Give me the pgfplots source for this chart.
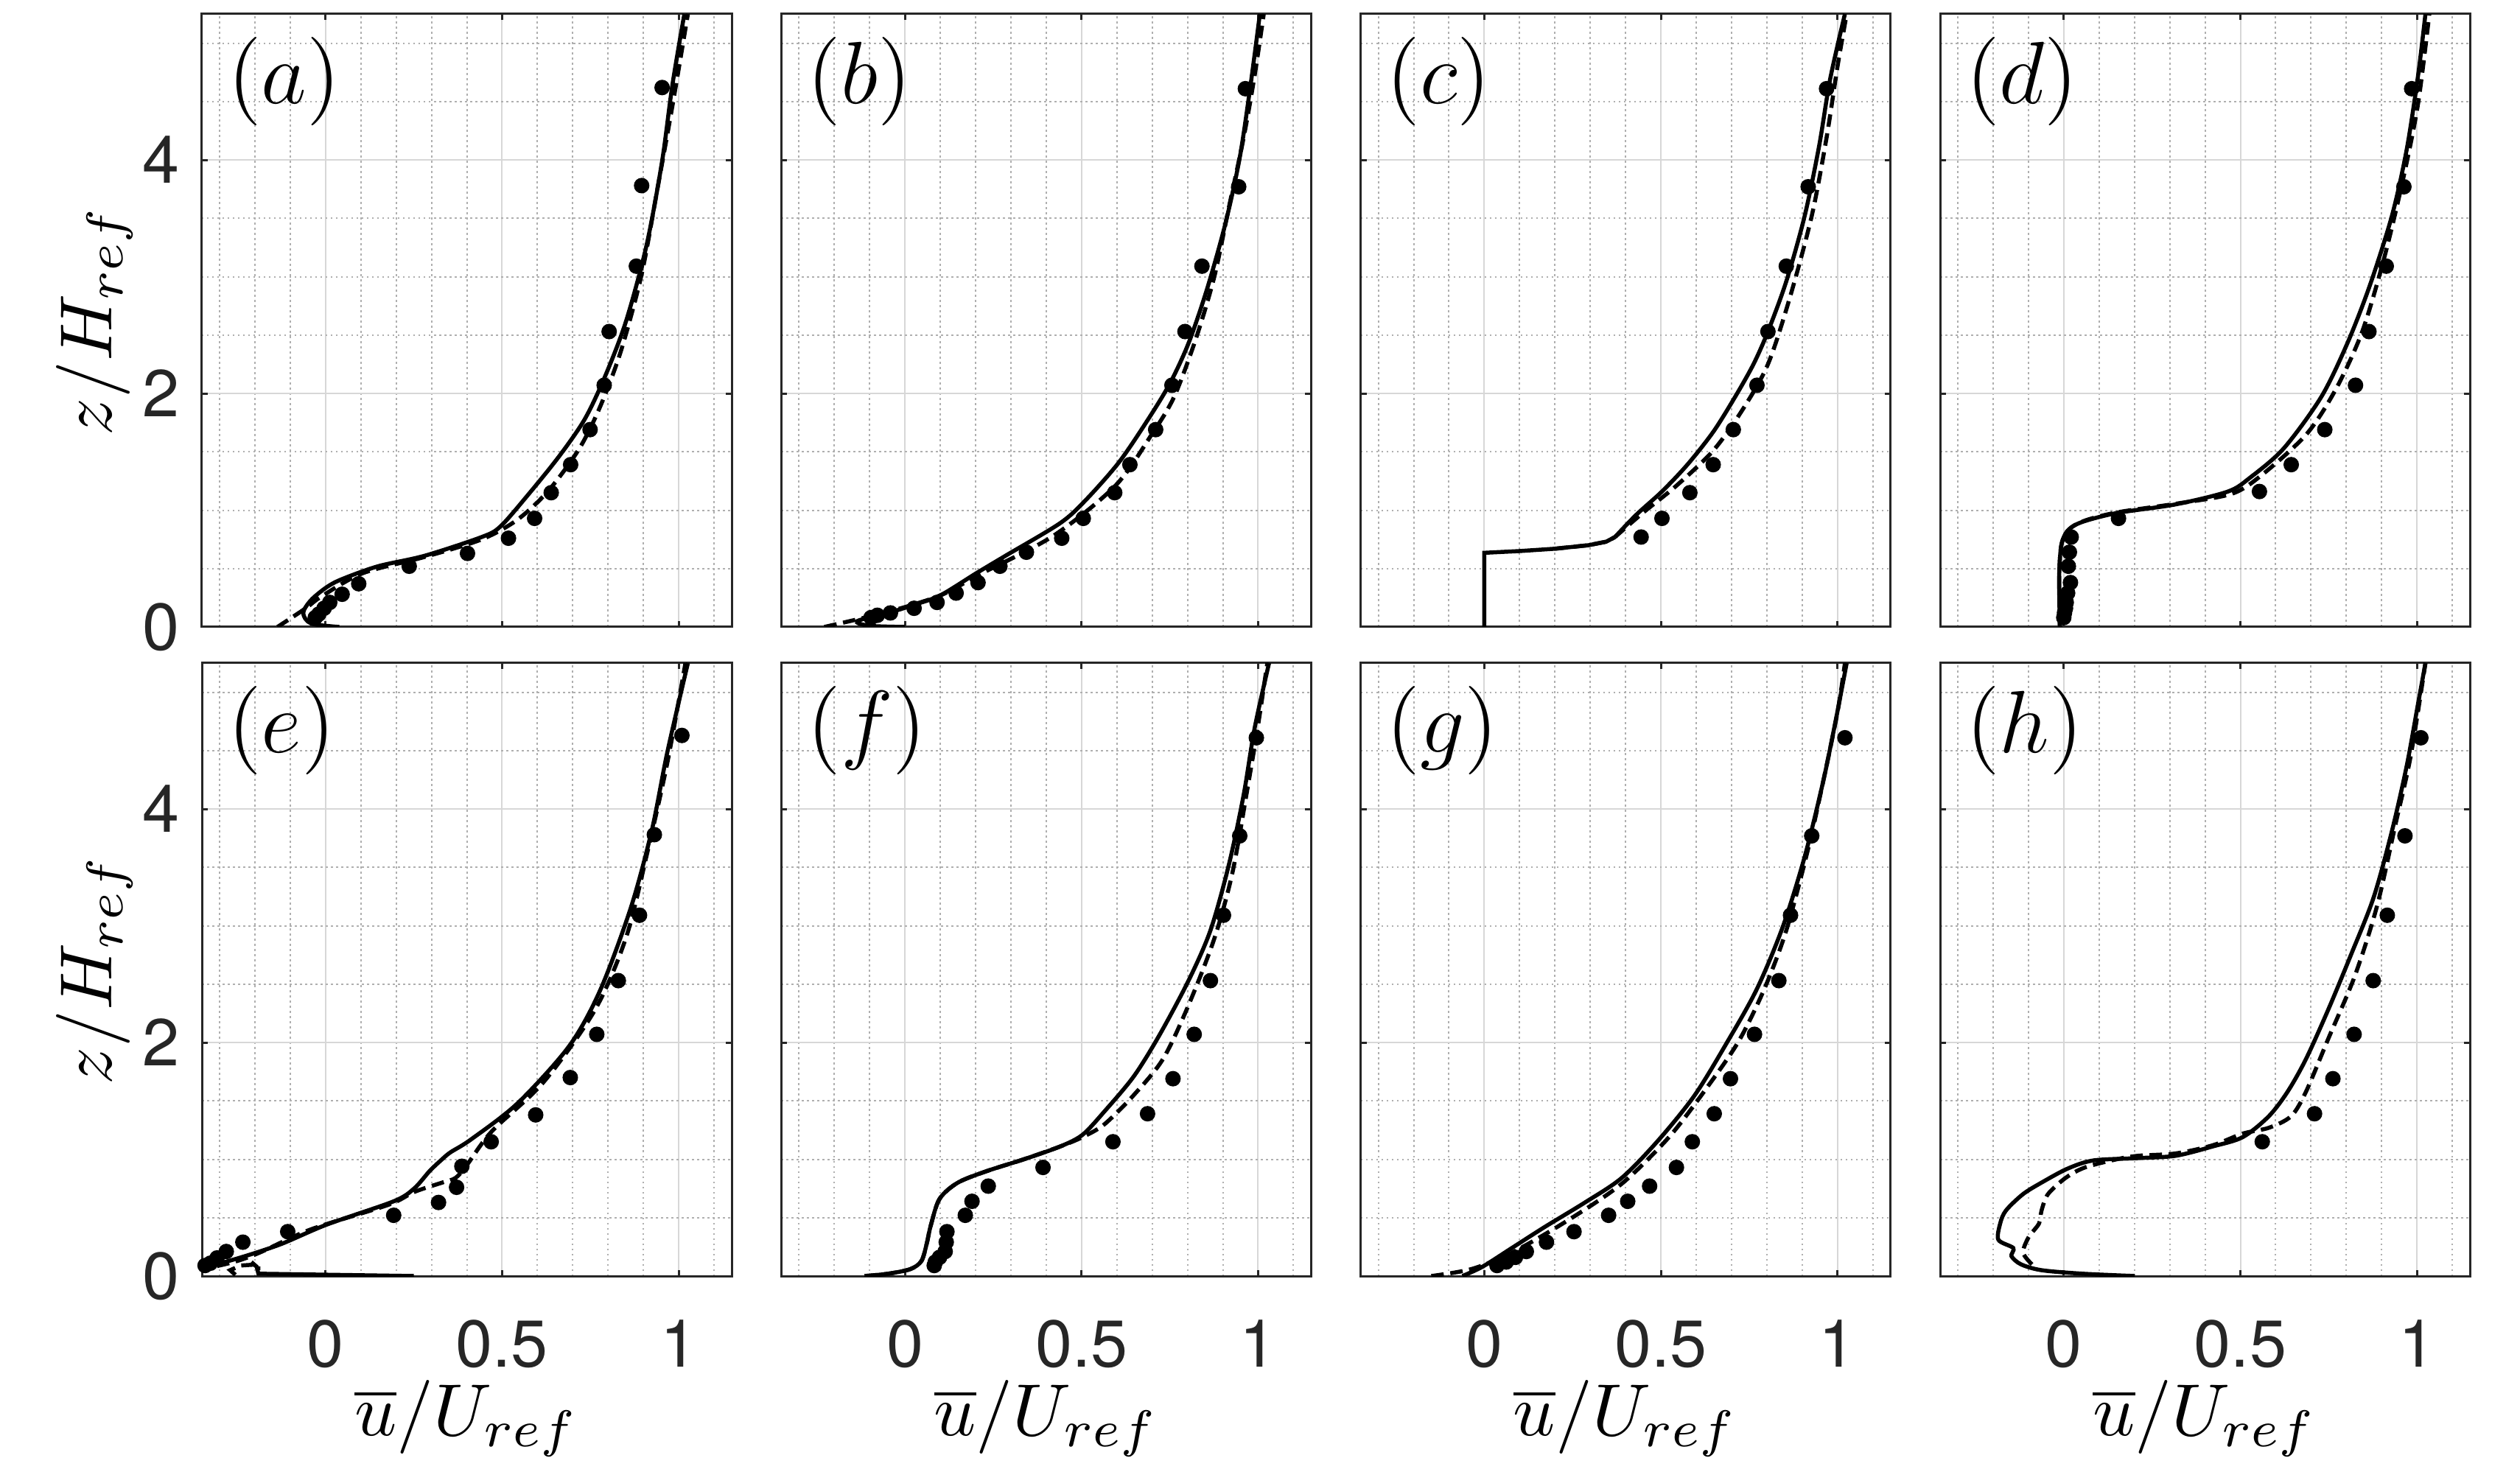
\documentclass[border=0pt]{standalone}
\usepackage{fontspec}
\newfontfamily\heros{TeX Gyre Heros}
\usepackage{pgfplots}
\pgfplotsset{compat=1.18}
\definecolor{axgray}{RGB}{38,38,38}
\definecolor{majgrid}{RGB}{215,215,215}
\definecolor{mingrid}{RGB}{175,175,175}
\pgfplotsset{
 panel/.style={
  scale only axis, width=71.9pt, height=83.2pt,
  xmin=-0.35, xmax=1.15, ymin=0, ymax=5.25,
  xtick={0,0.5,1}, ytick={0,2,4},
  minor xtick={-0.3,-0.2,-0.1,0.1,0.2,0.3,0.4,0.6,0.7,0.8,0.9,1.1},
  minor ytick={0.5,1,1.5,2.5,3,3.5,4.5,5},
  grid=both,
  major grid style={majgrid, line width=0.2pt},
  minor grid style={mingrid, line width=0.2pt, dash pattern=on 0.25pt off 0.45pt},
  tick align=inside, major tick length=0.8pt, minor tick length=0pt,
  axis line style={axgray, line width=0.3pt},
  every tick/.style={axgray, line width=0.3pt},
  /pgf/number format/assume math mode=true,
  tick label style={font=\heros\fontsize{9}{9}\selectfont, text=axgray, inner sep=0pt},
  x tick label style={anchor=north, yshift=-5.8pt},
  y tick label style={anchor=east, xshift=-2.85pt},
  label style={font=\fontsize{10}{10}\selectfont, inner sep=0pt},
  xlabel style={at={(axis description cs:0.5,-0.168)}, anchor=north},
  ylabel style={at={(axis description cs:-0.2031,0.5)}, anchor=center, rotate=0},
 },
 toprow/.style={xticklabels={}},
 notfirst/.style={yticklabels={}},
 sl/.style={black, line width=0.55pt, smooth, tension=0.5},
 slsharp/.style={black, line width=0.55pt},
 dl/.style={black, line width=0.55pt, dash pattern=on 1.7pt off 0.9pt, smooth, tension=0.5},
 dlsharp/.style={black, line width=0.55pt, dash pattern=on 1.7pt off 0.9pt},
 dt/.style={black, only marks, mark=*, mark size=0.85pt},
}
\newcommand{\plab}[1]{\node[anchor=west, inner sep=0pt, font=\fontsize{11.5}{11.5}\selectfont] at (rel axis cs:0.046,0.89) {$(#1)$};}
\begin{document}
\begin{tikzpicture}
\useasboundingbox (0,0) rectangle (342pt,197.8pt);
% ---------------- (a)
\begin{axis}[panel, toprow, at={(27.4pt,112.7pt)}, anchor=south west, ylabel={$z/H_{ref}$}]
\addplot[sl] coordinates {(0.039,0) (-0.041,0.03) (-0.063,0.12) (-0.041,0.23) (0.003,0.34) (0.047,0.41) (0.149,0.52) (0.281,0.61) (0.442,0.77) (0.495,0.86) (0.573,1.13) (0.661,1.46) (0.734,1.78) (0.792,2.15) (0.851,2.62) (0.909,3.27) (0.953,3.99) (0.982,4.64) (1.016,5.25)};
\addplot[dl] coordinates {(-0.136,0) (-0.056,0.16) (-0.012,0.26) (0.105,0.46) (0.281,0.60) (0.442,0.75) (0.544,0.92) (0.632,1.17) (0.719,1.53) (0.778,1.89) (0.836,2.36) (0.895,3.02) (0.939,3.74) (0.982,4.46) (1.026,5.25)};
\addplot[dt] coordinates {(0.953,4.62) (0.895,3.78) (0.880,3.09) (0.803,2.53) (0.789,2.07) (0.749,1.69) (0.694,1.39) (0.639,1.15) (0.592,0.93) (0.518,0.76) (0.402,0.63) (0.237,0.52) (0.094,0.37) (0.047,0.28) (0.012,0.21) (-0.004,0.16) (-0.019,0.11) (-0.029,0.08)};
\plab{a}
\end{axis}
% ---------------- (b)
\begin{axis}[panel, toprow, notfirst, at={(106.03pt,112.7pt)}, anchor=south west]
\addplot[sl] coordinates {(0.0,0) (-0.1,0.01) (-0.135,0.05) (-0.047,0.12) (0.026,0.19) (0.10,0.27) (0.202,0.46) (0.285,0.61) (0.44,0.89) (0.513,1.09) (0.606,1.41) (0.689,1.78) (0.751,2.09) (0.803,2.43) (0.855,2.89) (0.907,3.45) (0.948,4.02) (0.979,4.65) (1.005,5.25)};
\addplot[dl] coordinates {(-0.228,0) (-0.047,0.13) (0.1,0.27) (0.212,0.45) (0.42,0.78) (0.596,1.21) (0.699,1.65) (0.762,1.97) (0.824,2.47) (0.876,3.0) (0.917,3.59) (0.959,4.19) (0.99,4.72) (1.016,5.25)};
\addplot[dt] coordinates {(0.964,4.61) (0.945,3.77) (0.841,3.09) (0.793,2.53) (0.756,2.07) (0.710,1.69) (0.637,1.39) (0.594,1.15) (0.505,0.93) (0.444,0.76) (0.344,0.64) (0.269,0.52) (0.207,0.38) (0.145,0.29) (0.091,0.21) (0.026,0.16) (-0.041,0.12) (-0.078,0.10) (-0.096,0.08)};
\plab{b}
\end{axis}
% ---------------- (c)
\begin{axis}[panel, toprow, notfirst, at={(184.66pt,112.7pt)}, anchor=south west]
\addplot[slsharp] coordinates {(0,0) (0,0.635) (0.1,0.65) (0.2,0.67) (0.295,0.70) (0.345,0.73) (0.37,0.77)};
\addplot[sl] coordinates {(0.37,0.77) (0.43,0.96) (0.503,1.16) (0.575,1.39) (0.648,1.67) (0.71,1.97) (0.762,2.25) (0.803,2.53) (0.855,2.96) (0.907,3.52) (0.948,4.12) (0.979,4.69) (1.021,5.25)};
\addplot[dlsharp] coordinates {(0.2,0.67) (0.295,0.70) (0.345,0.73) (0.37,0.77)};
\addplot[dl] coordinates {(0.37,0.77) (0.45,0.98) (0.544,1.21) (0.648,1.51) (0.731,1.86) (0.803,2.25) (0.865,2.82) (0.927,3.52) (0.969,4.19) (1.0,4.8) (1.026,5.25)};
\addplot[dt] coordinates {(0.969,4.61) (0.917,3.77) (0.855,3.09) (0.803,2.53) (0.772,2.07) (0.705,1.69) (0.648,1.39) (0.582,1.15) (0.503,0.93) (0.444,0.77)};
\plab{c}
\end{axis}
% ---------------- (d)
\begin{axis}[panel, toprow, notfirst, at={(263.3pt,112.7pt)}, anchor=south west]
\addplot[sl] coordinates {(-0.011,0) (-0.013,0.42) (-0.008,0.68) (0.005,0.80) (0.03,0.87) (0.074,0.92) (0.158,0.98) (0.317,1.05) (0.465,1.16) (0.528,1.28) (0.623,1.53) (0.729,1.97) (0.803,2.43) (0.866,2.92) (0.929,3.52) (0.971,4.09) (1.003,4.72) (1.024,5.25)};
\addplot[dl] coordinates {(-0.011,0) (-0.013,0.42) (-0.008,0.68) (0.005,0.80) (0.03,0.87) (0.074,0.925) (0.158,0.985) (0.317,1.055) (0.475,1.14) (0.56,1.30) (0.687,1.65) (0.771,2.04) (0.845,2.53) (0.908,3.17) (0.961,3.84) (1.003,4.48) (1.035,5.25)};
\addplot[dt] coordinates {(0.985,4.61) (0.963,3.77) (0.913,3.09) (0.864,2.53) (0.826,2.07) (0.739,1.69) (0.644,1.39) (0.554,1.16) (0.155,0.93) (0.021,0.77) (0.016,0.64) (0.013,0.52) (0.019,0.38) (0.011,0.29) (0.007,0.21) (0.005,0.16) (0.002,0.12) (0.0,0.08)};
\plab{d}
\end{axis}
% ---------------- (e)
\begin{axis}[panel, at={(27.4pt,24.6pt)}, anchor=south west, ylabel={$z/H_{ref}$}, xlabel={$\overline{u}/U_{ref}$}]
\addplot[slsharp] coordinates {(0.25,0) (-0.19,0.02) (-0.195,0.08) (-0.21,0.12)};
\addplot[sl] coordinates {(-0.36,0.06) (-0.25,0.15) (-0.129,0.27) (0.003,0.44) (0.193,0.64) (0.251,0.75) (0.295,0.90) (0.33,1.0) (0.354,1.06) (0.412,1.17) (0.544,1.48) (0.69,1.97) (0.778,2.45) (0.865,3.16) (0.924,3.82) (0.968,4.49) (1.026,5.25)};
\addplot[dlsharp] coordinates {(-0.255,0.01) (-0.27,0.05) (-0.24,0.09) (-0.19,0.1) (-0.19,0.05)};
\addplot[dl] coordinates {(-0.36,0.05) (-0.26,0.12) (-0.187,0.20) (-0.041,0.40) (0.178,0.61) (0.251,0.72) (0.33,0.80) (0.368,0.84) (0.40,0.95) (0.471,1.24) (0.617,1.66) (0.763,2.28) (0.851,2.9) (0.909,3.6) (0.968,4.4) (1.019,5.25)};
\addplot[dt] coordinates {(1.009,4.63) (0.931,3.78) (0.889,3.09) (0.829,2.53) (0.768,2.07) (0.693,1.70) (0.595,1.38) (0.469,1.15) (0.386,0.94) (0.371,0.76) (0.320,0.63) (0.193,0.52) (-0.107,0.38) (-0.234,0.29) (-0.281,0.21) (-0.307,0.155) (-0.326,0.11) (-0.341,0.09)};
\plab{e}
\end{axis}
% ---------------- (f)
\begin{axis}[panel, notfirst, at={(106.03pt,24.6pt)}, anchor=south west, xlabel={$\overline{u}/U_{ref}$}]
\addplot[sl] coordinates {(-0.114,0) (-0.047,0.02) (0.016,0.06) (0.047,0.13) (0.062,0.28) (0.073,0.43) (0.098,0.66) (0.15,0.80) (0.233,0.90) (0.337,1.0) (0.44,1.11) (0.503,1.21) (0.565,1.41) (0.648,1.71) (0.72,2.06) (0.803,2.53) (0.865,2.96) (0.917,3.52) (0.959,4.12) (0.99,4.69) (1.031,5.25)};
\addplot[dl] coordinates {(-0.114,0) (-0.047,0.02) (0.016,0.06) (0.047,0.13) (0.062,0.28) (0.073,0.43) (0.098,0.66) (0.15,0.80) (0.233,0.90) (0.337,1.0) (0.44,1.11) (0.503,1.19) (0.565,1.30) (0.648,1.55) (0.731,1.86) (0.803,2.32) (0.876,2.89) (0.927,3.45) (0.969,4.16) (1.0,4.72) (1.026,5.25)};
\addplot[dt] coordinates {(0.995,4.61) (0.948,3.77) (0.902,3.09) (0.865,2.53) (0.819,2.07) (0.759,1.69) (0.687,1.39) (0.589,1.15) (0.391,0.93) (0.236,0.77) (0.190,0.64) (0.171,0.52) (0.119,0.38) (0.117,0.29) (0.114,0.21) (0.098,0.16) (0.086,0.12) (0.083,0.09)};
\plab{f}
\end{axis}
% ---------------- (g)
\begin{axis}[panel, notfirst, at={(184.66pt,24.6pt)}, anchor=south west, xlabel={$\overline{u}/U_{ref}$}]
\addplot[sl] coordinates {(-0.062,0) (-0.005,0.08) (0.078,0.24) (0.171,0.42) (0.285,0.63) (0.389,0.84) (0.492,1.16) (0.596,1.55) (0.689,2.01) (0.772,2.46) (0.845,2.99) (0.907,3.59) (0.959,4.23) (0.995,4.76) (1.026,5.25)};
\addplot[dl] coordinates {(-0.15,0) (-0.036,0.06) (0.078,0.20) (0.233,0.47) (0.389,0.79) (0.523,1.19) (0.627,1.60) (0.72,2.01) (0.793,2.46) (0.855,2.96) (0.917,3.66) (0.959,4.23) (1.0,4.83) (1.021,5.25)};
\addplot[dt] coordinates {(1.021,4.61) (0.927,3.77) (0.867,3.09) (0.834,2.53) (0.765,2.07) (0.697,1.69) (0.651,1.39) (0.589,1.15) (0.544,0.93) (0.468,0.77) (0.406,0.64) (0.352,0.52) (0.254,0.38) (0.176,0.29) (0.119,0.21) (0.088,0.16) (0.062,0.12) (0.036,0.09)};
\plab{g}
\end{axis}
% ---------------- (h)
\begin{axis}[panel, notfirst, at={(263.3pt,24.6pt)}, anchor=south west, xlabel={$\overline{u}/U_{ref}$}]
\addplot[sl] coordinates {(0.201,0) (0.053,0.02) (-0.063,0.05) (-0.121,0.10) (-0.148,0.17) (-0.143,0.24) (-0.185,0.31) (-0.18,0.45) (-0.164,0.56) (-0.116,0.70) (-0.063,0.80) (0.011,0.92) (0.084,0.99) (0.211,1.01) (0.317,1.03) (0.422,1.11) (0.507,1.19) (0.581,1.37) (0.634,1.58) (0.686,1.86) (0.75,2.29) (0.813,2.75) (0.877,3.24) (0.929,3.81) (0.971,4.37) (1.003,4.90) (1.024,5.25)};
\addplot[dl] coordinates {(-0.09,0.10) (-0.115,0.2) (-0.1,0.33) (-0.07,0.45) (-0.063,0.56) (-0.045,0.70) (0.005,0.84) (0.06,0.93) (0.15,1.0) (0.211,1.03) (0.317,1.05) (0.422,1.12) (0.507,1.22) (0.581,1.27) (0.644,1.37) (0.686,1.58) (0.75,2.04) (0.824,2.57) (0.887,3.17) (0.94,3.88) (0.982,4.45) (1.024,5.25)};
\addplot[dt] coordinates {(1.011,4.61) (0.966,3.77) (0.916,3.09) (0.876,2.53) (0.822,2.07) (0.762,1.69) (0.710,1.39) (0.562,1.15)};
\plab{h}
\end{axis}
\end{tikzpicture}
\end{document}
